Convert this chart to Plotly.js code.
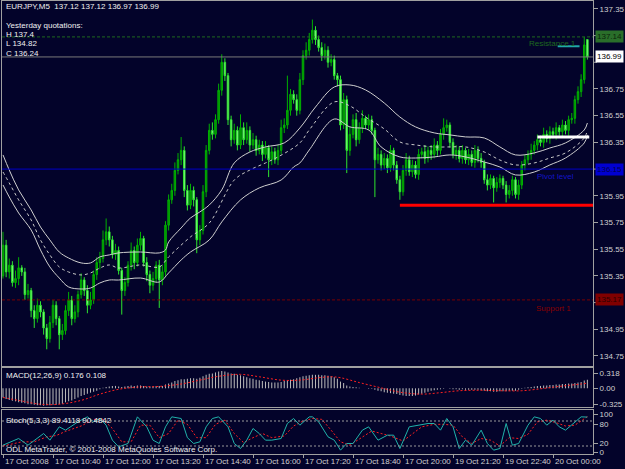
<!DOCTYPE html>
<html><head><meta charset="utf-8">
<script src="https://cdn.plot.ly/plotly-3.0.1.min.js"></script>
<style>html,body{margin:0;padding:0;background:#03032a;}#chart{width:625px;height:469px;}</style>
</head><body><div id="chart"></div>
<script>
// ---- candle data (EURJPY M5) ----
const openP = [
135.35,135.58,135.38,135.43,135.30,135.33,135.41,135.38,135.21,135.24,
135.09,135.03,135.13,135.08,134.96,134.88,135.00,135.13,135.03,134.91,
134.94,135.09,135.17,135.03,135.08,135.21,135.32,135.24,135.13,135.17,
135.36,135.45,135.48,135.62,135.68,135.62,135.51,135.54,135.39,135.24,
135.30,135.43,135.54,135.45,135.58,135.63,135.45,135.36,135.28,135.33,
135.43,135.32,135.38,135.73,135.92,135.99,136.14,136.22,136.29,135.99,
135.88,135.99,135.92,135.62,135.69,135.98,136.29,136.44,136.41,136.52,
136.74,136.95,136.85,136.52,136.37,136.44,136.33,136.46,136.37,136.44,
136.33,136.37,136.29,136.33,136.26,136.31,136.22,136.28,136.22,136.29,
136.46,136.48,136.59,136.71,136.67,136.59,136.82,137.00,137.04,137.12,
137.19,137.12,137.06,137.00,137.04,136.95,136.97,136.85,136.82,136.48,
136.67,136.29,136.41,136.52,136.37,136.46,136.53,136.48,136.52,136.44,
136.22,136.26,136.18,136.23,136.16,136.29,136.18,136.07,135.98,136.14,
136.22,136.13,136.18,136.11,136.26,136.28,136.23,136.29,136.26,136.33,
136.29,136.41,136.46,136.48,136.35,136.26,136.29,136.23,136.29,136.22,
136.26,136.20,136.29,136.23,136.20,136.07,136.03,136.08,136.01,136.05,
136.08,136.03,135.96,135.99,136.07,135.96,136.03,136.18,136.22,136.26,
136.29,136.33,136.37,136.35,136.41,136.38,136.43,136.41,136.46,136.43,
136.48,136.44,136.52,136.53,136.67,136.73,136.82,137.12];
const highP = [
135.68,135.62,135.48,135.46,135.39,135.49,135.43,135.41,135.29,135.26,
135.13,135.18,135.16,135.10,134.99,135.05,135.17,135.16,135.05,134.99,
135.13,135.23,135.20,135.13,135.24,135.37,135.34,135.28,135.23,135.39,
135.49,135.53,135.69,135.78,135.72,135.65,135.59,135.57,135.41,135.34,
135.46,135.60,135.57,135.63,135.68,135.65,135.49,135.39,135.38,135.46,
135.47,135.43,135.76,135.96,136.04,136.20,136.27,136.39,136.32,136.03,
136.04,136.02,135.94,135.73,136.03,136.33,136.49,136.50,136.56,136.79,
137.01,136.98,136.87,136.55,136.49,136.47,136.56,136.50,136.50,136.47,
136.42,136.40,136.37,136.36,136.36,136.33,136.32,136.31,136.33,136.52,
136.53,136.85,136.75,136.74,136.71,136.87,137.04,137.10,137.17,137.27,
137.22,137.15,137.10,137.09,137.07,137.01,137.00,136.87,136.85,136.72,
136.70,136.47,136.56,136.57,136.50,136.59,136.55,136.56,136.55,136.46,
136.31,136.29,136.27,136.26,136.33,136.31,136.21,136.10,136.18,136.27,
136.25,136.22,136.21,136.30,136.31,136.33,136.32,136.33,136.38,136.36,
136.45,136.53,136.52,136.50,136.38,136.33,136.32,136.33,136.31,136.30,
136.29,136.33,136.32,136.27,136.22,136.11,136.11,136.10,136.09,136.11,
136.10,136.06,136.03,136.10,136.09,136.07,136.21,136.26,136.29,136.34,
136.36,136.41,136.40,136.46,136.44,136.47,136.46,136.50,136.48,136.52,
136.51,136.55,136.57,136.70,136.77,136.86,137.14,137.12];
const lowP = [
135.33,135.34,135.33,135.27,135.26,135.28,135.35,135.17,135.18,135.04,
134.96,135.00,135.04,134.91,134.80,134.85,134.96,134.98,134.80,134.87,
134.91,135.05,134.98,135.00,135.04,135.18,135.20,135.07,135.10,135.14,
135.32,135.40,135.45,135.58,135.57,135.48,135.47,135.36,135.06,135.20,
135.27,135.39,135.40,135.42,135.54,135.42,135.31,135.22,135.24,135.30,
135.11,135.28,135.35,135.69,135.89,135.95,136.11,136.18,135.94,135.84,
135.85,135.87,135.52,135.58,135.66,135.94,136.26,136.37,136.38,136.49,
136.70,136.81,136.48,136.32,136.34,136.29,136.30,136.33,136.34,136.28,
136.30,136.25,136.26,136.21,136.23,136.09,136.18,136.19,136.18,136.26,
136.42,136.45,136.55,136.64,136.55,136.56,136.78,136.97,137.00,137.09,
137.08,137.03,136.96,136.97,136.91,136.92,136.82,136.77,136.44,136.45,
136.12,136.25,136.38,136.32,136.34,136.42,136.45,136.44,136.41,135.94,
136.19,136.14,136.15,136.12,136.13,136.14,136.04,135.92,135.95,136.10,
136.10,136.09,136.08,136.07,136.23,136.19,136.20,136.22,136.23,136.25,
136.26,136.37,136.43,136.31,136.23,136.22,136.20,136.19,136.19,136.18,
136.17,136.16,136.20,136.16,136.04,135.99,136.00,135.90,135.98,136.01,
136.00,135.90,135.93,135.95,135.93,135.92,136.00,136.14,136.19,136.22,
136.26,136.29,136.32,136.31,136.35,136.34,136.38,136.37,136.40,136.39,
136.41,136.40,136.49,136.49,136.64,136.69,136.79,136.97];
const closeP = [
135.58,135.38,135.43,135.30,135.33,135.41,135.38,135.21,135.24,135.09,
135.03,135.13,135.08,134.96,134.88,135.00,135.13,135.03,134.91,134.94,
135.09,135.17,135.03,135.08,135.21,135.32,135.24,135.13,135.17,135.36,
135.45,135.48,135.62,135.68,135.62,135.51,135.54,135.39,135.24,135.30,
135.43,135.54,135.45,135.58,135.63,135.45,135.36,135.28,135.33,135.43,
135.32,135.38,135.73,135.92,135.99,136.14,136.22,136.29,135.99,135.88,
135.99,135.92,135.62,135.69,135.98,136.29,136.44,136.41,136.52,136.74,
136.95,136.85,136.52,136.37,136.44,136.33,136.46,136.37,136.44,136.33,
136.37,136.29,136.33,136.26,136.31,136.22,136.28,136.22,136.29,136.46,
136.48,136.59,136.71,136.67,136.59,136.82,137.00,137.04,137.12,137.19,
137.12,137.06,137.00,137.04,136.95,136.97,136.85,136.82,136.48,136.67,
136.29,136.41,136.52,136.37,136.46,136.53,136.48,136.52,136.44,136.22,
136.26,136.18,136.23,136.16,136.29,136.18,136.07,135.98,136.14,136.22,
136.13,136.18,136.11,136.26,136.28,136.23,136.29,136.26,136.33,136.29,
136.41,136.46,136.48,136.35,136.26,136.29,136.23,136.29,136.22,136.26,
136.20,136.29,136.23,136.20,136.07,136.03,136.08,136.01,136.05,136.08,
136.03,135.96,135.99,136.07,135.96,136.03,136.18,136.22,136.26,136.29,
136.33,136.37,136.35,136.41,136.38,136.43,136.41,136.46,136.43,136.48,
136.44,136.52,136.53,136.67,136.73,136.82,137.08,136.99];

// ---- envelopes (read at bar positions) ----
const envUpperIdx = [0,2,5,9,12,15,18,21,25,28,31,34,37,44,50,52,53,57,60,63,66,70,74,79,84,90,95,100,106,111,116,122,127,132,138,143,148,154,159,164,170,175,180,186,187];
const envUpper = [136.256,136.143,135.994,135.844,135.716,135.619,135.529,135.484,135.447,135.447,135.492,135.507,135.522,135.529,135.522,135.544,135.604,135.709,135.784,135.829,135.881,135.994,136.196,136.278,136.316,136.346,136.458,136.615,136.765,136.780,136.743,136.645,136.540,136.466,136.421,136.406,136.391,136.383,136.316,136.256,136.271,136.308,136.346,136.443,136.495];
const envMidIdx = [0,2,5,9,12,15,18,21,25,28,31,34,37,44,50,53,60,66,74,79,84,88,95,98,106,111,116,122,127,132,138,143,148,154,159,164,170,175,180,186,187];
const envMid = [136.128,136.046,135.919,135.769,135.619,135.507,135.417,135.379,135.357,135.372,135.409,135.432,135.409,135.432,135.417,135.492,135.642,135.746,136.068,136.143,136.196,136.241,136.346,136.443,136.653,136.623,136.540,136.451,136.353,136.331,136.316,136.316,136.316,136.278,136.218,136.181,136.196,136.233,136.271,136.383,136.443];
const envLowerIdx = [0,2,5,9,12,15,18,21,25,28,31,34,37,44,50,53,57,60,66,70,76,82,89,93,95,98,106,111,117,121,127,132,138,143,148,154,159,164,170,175,180,186,187];
const envLower = [136.031,135.941,135.821,135.694,135.544,135.417,135.334,135.267,135.252,135.259,135.297,135.319,135.319,135.334,135.304,135.372,135.469,135.529,135.619,135.754,135.919,136.009,136.068,136.166,136.196,136.293,136.525,136.466,136.443,136.316,136.241,136.233,136.241,136.256,136.241,136.203,136.166,136.106,136.128,136.181,136.233,136.346,136.406];

// ---- MACD(12,26,9) ----
const macdHist = [
-0.19,-0.22,-0.24,-0.26,-0.27,-0.29,-0.30,-0.31,-0.33,-0.33,-0.34,-0.35,
-0.35,-0.36,-0.35,-0.35,-0.34,-0.34,-0.33,-0.32,-0.29,-0.27,-0.25,-0.22,
-0.19,-0.16,-0.14,-0.11,-0.09,-0.07,-0.05,-0.02,0.01,0.03,0.04,0.05,
0.05,0.04,0.03,0.04,0.05,0.06,0.05,0.06,0.06,0.05,0.04,0.04,
0.04,0.05,0.05,0.05,0.08,0.10,0.12,0.15,0.17,0.19,0.19,0.20,
0.21,0.21,0.20,0.22,0.25,0.28,0.30,0.31,0.33,0.35,0.36,0.35,
0.33,0.31,0.30,0.28,0.27,0.25,0.23,0.21,0.20,0.18,0.17,0.15,
0.14,0.13,0.12,0.12,0.12,0.13,0.15,0.17,0.18,0.19,0.21,0.23,
0.25,0.26,0.27,0.28,0.28,0.28,0.27,0.27,0.26,0.25,0.23,0.20,
0.14,0.11,0.06,0.04,0.03,0.02,0.01,0.00,0.00,-0.01,-0.01,-0.03,
-0.05,-0.06,-0.08,-0.09,-0.10,-0.11,-0.12,-0.14,-0.15,-0.16,-0.16,-0.16,
-0.15,-0.13,-0.11,-0.09,-0.07,-0.05,-0.04,-0.03,-0.02,-0.01,0.00,-0.01,
-0.02,-0.02,-0.03,-0.02,-0.03,-0.03,-0.03,-0.03,-0.03,-0.04,-0.05,-0.06,
-0.06,-0.07,-0.07,-0.06,-0.06,-0.06,-0.05,-0.05,-0.05,-0.03,-0.01,0.01,
0.02,0.03,0.04,0.05,0.05,0.06,0.06,0.07,0.07,0.08,0.08,0.09,
0.09,0.10,0.10,0.11,0.12,0.13,0.16,0.176];
const macdSigIdx = [0,5,12,18,25,31,37,44,50,57,63,69,76,82,89,95,101,105,108,114,121,127,134,140,146,153,159,166,172,178,185,187];
const macdSig = [-0.19,-0.25,-0.33,-0.33,-0.25,-0.12,-0.02,0.03,0.04,0.09,0.17,0.25,0.29,0.24,0.17,0.17,0.22,0.24,0.22,0.12,0.01,-0.08,-0.12,-0.09,-0.05,-0.04,-0.05,-0.05,-0.01,0.04,0.09,0.108];

// ---- Stochastic(5,3,3) ----
const stochIdx = [0,5,8,12,13,15,18,20,24,27,29,31,33,35,37,40,42,43,46,48,50,52,54,57,59,61,63,65,67,69,72,74,76,78,80,82,84,86,89,91,93,95,98,99,101,104,106,108,110,112,115,117,120,123,125,127,130,133,136,138,140,142,144,146,148,150,153,155,157,159,161,163,165,168,170,172,174,176,178,180,182,185,187];
const stochMain = [22,38,22,46,50,34,66,58,78,90,78,86,70,34,18,26,66,90,66,34,26,66,90,86,40,26,30,66,86,90,66,26,14,34,62,50,34,34,38,74,86,70,90,90,78,42,34,10,26,26,58,66,34,46,46,14,66,70,74,74,58,86,66,14,34,22,58,26,10,14,74,22,26,70,90,86,70,82,66,58,70,90,89.41];
const stochSigIdx = [0,6,10,14,17,20,25,29,32,35,38,41,44,47,50,53,56,59,62,65,68,71,74,77,80,83,86,90,93,96,99,102,105,108,111,114,118,121,124,128,131,134,138,141,144,147,150,153,156,159,162,165,168,171,174,177,180,183,187];
const stochSig = [20,30,30,42,45,55,68,84,84,62,30,30,70,70,40,50,82,72,40,40,72,82,50,28,40,50,40,44,68,80,86,84,58,30,22,36,56,50,44,32,48,66,72,72,70,42,26,38,34,20,40,38,48,78,82,76,68,70,90.48];

// ---- labels ----
const timeTickIdx = [0,16,32,48,64,80,96,112,128,144,160,176];
const timeLabels = ["17 Oct 2008","17 Oct 10:40","17 Oct 12:00","17 Oct 13:20","17 Oct 14:40","17 Oct 16:00","17 Oct 17:20","17 Oct 18:40","17 Oct 20:00","19 Oct 21:20","19 Oct 22:40","20 Oct 00:00"];
const priceTicks = [134.75,134.95,135.35,135.55,135.75,135.95,136.35,136.55,136.75,137.35];
const priceTickMarks = [135.15,136.15,136.95,137.15];
const stochLabels = ['100','80','20','0'];
const levelRes = 137.14, levelBid = 136.99, levelPivot = 136.15, levelSup = 135.17;
const whiteLine = {x:[171,187.6], y:136.39};
const redLine = {x:[127,189], y:135.88};
const tealLine = {x:[177.5,184.5], y:137.07};

const idx = closeP.map((_, i) => i);
const BG = '#03032a';
const FONT = 'Liberation Sans, Arial, sans-serif';
const W = 625, H = 469, ML = 2, MR = 32, MT = 1, MB = 15;
const px = x => (x - ML) / (W - ML - MR);
const py = y => (H - MB - y) / (H - MT - MB);
const XR = [-0.32, 188.8];
const AX = '#a0a0a0';

const traces = [
  {type:'candlestick', x:idx, open:openP, high:highP, low:lowP, close:closeP, xaxis:'x', yaxis:'y',
   increasing:{line:{color:'#00b000', width:1}, fillcolor:'#008c00'},
   decreasing:{line:{color:'#2ee62e', width:1}, fillcolor:'#9cff9c'},
   whiskerwidth:0, hoverinfo:'skip', showlegend:false},
  {type:'scatter', mode:'lines', x:envUpperIdx, y:envUpper, xaxis:'x', yaxis:'y', line:{color:'#cfcfcf', width:1, shape:'spline'}, hoverinfo:'skip'},
  {type:'scatter', mode:'lines', x:envMidIdx, y:envMid, xaxis:'x', yaxis:'y', line:{color:'#c8c8c8', width:1, dash:'3px,3px', shape:'spline'}, hoverinfo:'skip'},
  {type:'scatter', mode:'lines', x:envLowerIdx, y:envLower, xaxis:'x', yaxis:'y', line:{color:'#cfcfcf', width:1, shape:'spline'}, hoverinfo:'skip'},
  {type:'bar', x:idx, y:macdHist, xaxis:'x2', yaxis:'y2', marker:{color:'#b8b8b8', line:{width:0}}, width:0.33, hoverinfo:'skip'},
  {type:'scatter', mode:'lines', x:macdSigIdx, y:macdSig, xaxis:'x2', yaxis:'y2', line:{color:'#ff2020', width:1, dash:'2px,2px', shape:'spline'}, hoverinfo:'skip'},
  {type:'scatter', mode:'lines', x:stochSigIdx, y:stochSig, xaxis:'x3', yaxis:'y3', line:{color:'#ff2020', width:1, dash:'2px,2px'}, hoverinfo:'skip'},
  {type:'scatter', mode:'lines', x:stochIdx, y:stochMain, xaxis:'x3', yaxis:'y3', line:{color:'#20b2aa', width:1}, hoverinfo:'skip'}
];

const tickFont = {family:FONT, size:8, color:'#d0d0d0'};
const baseX = {range:XR, showgrid:false, zeroline:false, showline:true, mirror:true, linecolor:AX, linewidth:1, fixedrange:true};
const baseY = {side:'right', tickmode:'array', ticks:'outside', ticklen:4, tickcolor:AX, tickfont:tickFont,
               showgrid:false, zeroline:false, showline:true, mirror:true, linecolor:AX, fixedrange:true};
const layout = {
  width:W, height:H, margin:{l:ML, r:MR, t:MT, b:MB},
  paper_bgcolor:BG, plot_bgcolor:BG, showlegend:false, hovermode:false,
  font:{family:FONT, size:8, color:'#e0e0e0'},
  xaxis: Object.assign({}, baseX, {anchor:'y', showticklabels:false, ticks:'', rangeslider:{visible:false}}),
  xaxis2: Object.assign({}, baseX, {anchor:'y2', showticklabels:false, ticks:''}),
  xaxis3: Object.assign({}, baseX, {anchor:'y3', tickmode:'array', tickvals:timeTickIdx, showticklabels:false,
           ticks:'outside', ticklen:3, tickcolor:AX}),
  yaxis: Object.assign({}, baseY, {domain:[py(366), 1], range:[134.675, 137.409], anchor:'x', tickvals:priceTicks,
          ticktext:priceTicks.map(v => v.toFixed(2))}),
  yaxis2: Object.assign({}, baseY, {domain:[py(407), py(368)], range:[-0.3872, 0.4217], anchor:'x2',
          tickvals:[0.318, 0, -0.325], ticktext:['0.318','0.00','-0.325']}),
  yaxis3: Object.assign({}, baseY, {domain:[0, py(410)], range:[0.8, 106.4], anchor:'x3',
          tickvals:[95.6, 72.8, 26, 4.4], ticktext:stochLabels}),
  shapes: [
    {type:'line', xref:'paper', x0:0, x1:1, yref:'y', y0:levelRes, y1:levelRes, line:{color:'#1f6a1f', width:1, dash:'3px,2px'}},
    {type:'line', xref:'paper', x0:0, x1:1, yref:'y', y0:levelBid, y1:levelBid, line:{color:'#7a7a7a', width:1}},
    {type:'line', xref:'paper', x0:0, x1:1, yref:'y', y0:levelPivot, y1:levelPivot, line:{color:'#0000c8', width:1}},
    {type:'line', xref:'paper', x0:0, x1:1, yref:'y', y0:levelSup, y1:levelSup, line:{color:'#7a0000', width:1, dash:'3px,2px'}},
    {type:'line', xref:'x', x0:whiteLine.x[0], x1:whiteLine.x[1], yref:'y', y0:whiteLine.y, y1:whiteLine.y, line:{color:'#ffffff', width:3}},
    {type:'line', xref:'x', x0:redLine.x[0], x1:redLine.x[1], yref:'y', y0:redLine.y, y1:redLine.y, line:{color:'#ff0000', width:3}},
    {type:'line', xref:'x', x0:tealLine.x[0], x1:tealLine.x[1], yref:'y', y0:tealLine.y, y1:tealLine.y, line:{color:'#20a8a8', width:2}},
    {type:'line', xref:'paper', x0:0, x1:1, yref:'y3', y0:80, y1:80, line:{color:'#9a9a9a', width:1, dash:'2px,2px'}},
    {type:'line', xref:'paper', x0:0, x1:1, yref:'y3', y0:20, y1:20, line:{color:'#9a9a9a', width:1, dash:'2px,2px'}}
  ],
  annotations: []
};
// small tick marks on the price axis where label boxes sit
priceTickMarks.forEach(v => layout.shapes.push({type:'line', xref:'paper', x0:1, x1:px(597), yref:'y', y0:v, y1:v, line:{color:AX, width:1}}));

function txt(t, x, y, color, anchor) {
  layout.annotations.push({text:t, xref:'paper', yref:'paper', x:px(x), y:py(y), xanchor:anchor||'left', yanchor:'middle',
    showarrow:false, font:{family:FONT, size:8, color:color||'#f0f0f0'}});
}
txt('EURJPY,M5\u00a0 137.12 137.12 136.97 136.99', 4, 7);
txt('Yesterday quotations:', 4, 25);
txt('H 137.4', 4, 34);
txt('L 134.82', 4, 43);
txt('C 136.24', 4, 53);
txt('Resistance 1', 578, 43, '#1f6a1f', 'right');
txt('Pivot level', 576, 176, '#1414c8', 'right');
txt('Support 1', 573, 308, '#8a0000', 'right');
txt('MACD(12,26,9) 0.176 0.108', 4, 375);
txt('Stoch(5,3,3) 89.4118 90.4842', 4, 420);
txt('ODL MetaTrader, \u00a9 2001-2008 MetaQuotes Software Corp.', 4, 449);

// time labels, left-aligned at their ticks
timeTickIdx.forEach((b, k) => layout.annotations.push({text:timeLabels[k], xref:'x3', yref:'paper', x:b, y:py(461),
  xanchor:'left', yanchor:'middle', showarrow:false, font:{family:FONT, size:8, color:'#d0d0d0'}}));

function box(v, bg, fg) {
  layout.annotations.push({text:v.toFixed(2), xref:'paper', yref:'y', x:px(595), y:v, xanchor:'left', yanchor:'middle',
    showarrow:false, bgcolor:bg, borderpad:1, font:{family:FONT, size:8, color:fg}});
}
box(levelRes, '#2a6e2a', '#0a260a');
box(levelBid, '#ffffff', '#000000');
box(levelPivot, '#0000d0', '#000050');
box(levelSup, '#800000', '#2a0000');

Plotly.newPlot('chart', traces, layout, {displayModeBar:false, staticPlot:true});
</script></body></html>
